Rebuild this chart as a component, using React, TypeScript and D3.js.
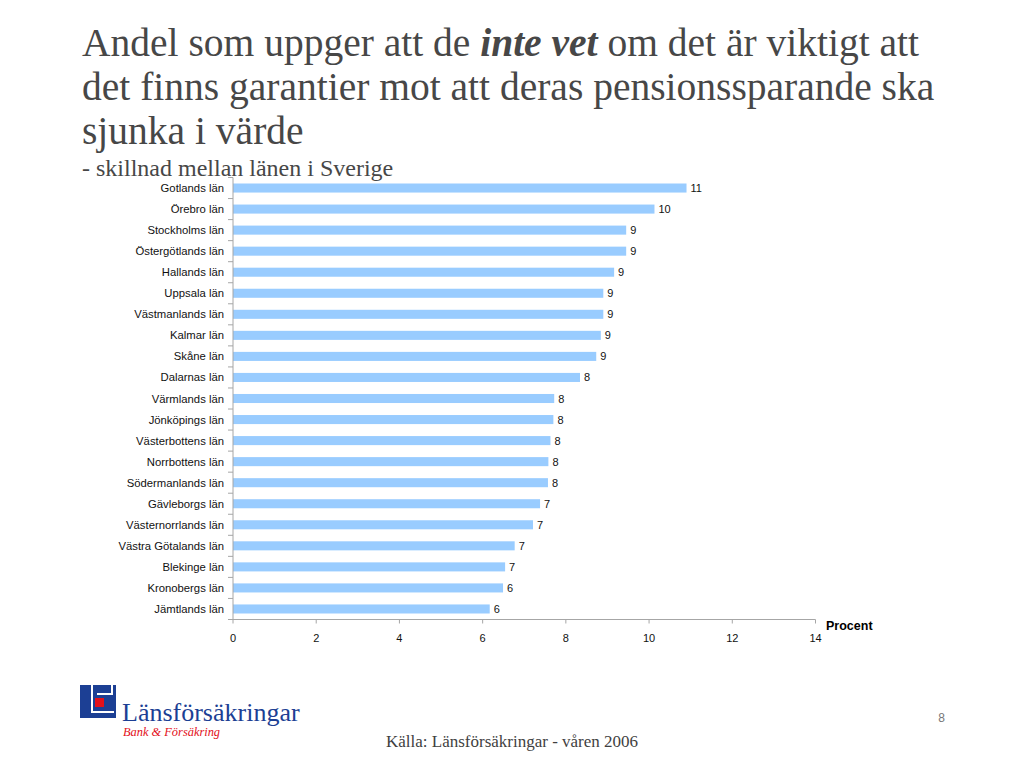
import React from "react";
import * as d3 from "d3";

const counties = [
  "Gotlands län",
  "Örebro län",
  "Stockholms län",
  "Östergötlands län",
  "Hallands län",
  "Uppsala län",
  "Västmanlands län",
  "Kalmar län",
  "Skåne län",
  "Dalarnas län",
  "Värmlands län",
  "Jönköpings län",
  "Västerbottens län",
  "Norrbottens län",
  "Södermanlands län",
  "Gävleborgs län",
  "Västernorrlands län",
  "Västra Götalands län",
  "Blekinge län",
  "Kronobergs län",
  "Jämtlands län",
];

const shares = [
  10.9, 10.13, 9.45, 9.45, 9.16, 8.9, 8.9, 8.84, 8.73, 8.34, 7.72, 7.7, 7.63,
  7.58, 7.57, 7.38, 7.21, 6.77, 6.54, 6.49, 6.17,
];

const xTicks = [0, 2, 4, 6, 8, 10, 12, 14];

const serif = "'Liberation Serif', 'Times New Roman', serif";
const sans = "'Liberation Sans', Arial, sans-serif";

const App = () => {
  const width = 1024;
  const height = 768;
  const left = 233;
  const right = 815.5;
  const top = 177.5;
  const bottom = 619.5;

  const x = d3.scaleLinear().domain([0, 14]).range([left, right]);
  const y = d3
    .scaleBand<string>()
    .domain(counties)
    .range([top, bottom])
    .paddingInner(0.57)
    .paddingOuter(0.285);

  const step = y.step();
  const bounds = d3.range(counties.length + 1).map((i) => top + i * step);

  return (
    <svg
      width={width}
      height={height}
      style={{ position: "absolute", left: 0, top: 0, background: "#fff" }}
    >
      {/* title */}
      <text x={82} y={56} fontSize={39.5} fontFamily={serif} fill="#474747">
        Andel som uppger att de{" "}
        <tspan fontWeight="bold" fontStyle="italic">
          inte vet
        </tspan>{" "}
        om det är viktigt att
      </text>
      <text x={82} y={100} fontSize={39.5} fontFamily={serif} fill="#474747">
        det finns garantier mot att deras pensionssparande ska
      </text>
      <text x={82} y={144} fontSize={39.5} fontFamily={serif} fill="#474747">
        sjunka i värde
      </text>
      <text x={82} y={176} fontSize={24} fontFamily={serif} fill="#474747">
        - skillnad mellan länen i Sverige
      </text>

      {/* bars */}
      {counties.map((c, i) => (
        <rect
          key={c}
          x={x(0)}
          y={y(c)}
          width={x(shares[i]) - x(0)}
          height={y.bandwidth()}
          fill="#99ccff"
        />
      ))}

      {/* value labels */}
      <g fontFamily={sans} fontSize={11} fill="#111">
        {counties.map((c, i) => (
          <text
            key={c}
            x={x(shares[i]) + 4}
            y={(y(c) ?? 0) + y.bandwidth() / 2}
            dominantBaseline="central"
          >
            {Math.round(shares[i])}
          </text>
        ))}
      </g>

      {/* category axis */}
      <g stroke="#a6a6a6" strokeWidth={1}>
        <line x1={left} x2={left} y1={top} y2={bottom} />
        {bounds.map((b, i) => (
          <line key={i} x1={left - 5} x2={left} y1={b} y2={b} />
        ))}
      </g>
      <g fontFamily={sans} fontSize={11.3} fill="#111" textAnchor="end">
        {counties.map((c) => (
          <text
            key={c}
            x={left - 9}
            y={(y(c) ?? 0) + y.bandwidth() / 2}
            dominantBaseline="central"
          >
            {c}
          </text>
        ))}
      </g>

      {/* value axis */}
      <g stroke="#a6a6a6" strokeWidth={1}>
        <line x1={left} x2={right} y1={bottom} y2={bottom} />
        {xTicks.map((t) => (
          <line key={t} x1={x(t)} x2={x(t)} y1={bottom} y2={bottom + 4} />
        ))}
      </g>
      <g fontFamily={sans} fontSize={11} fill="#111" textAnchor="middle">
        {xTicks.map((t) => (
          <text key={t} x={x(t)} y={bottom + 22}>
            {t}
          </text>
        ))}
      </g>
      <text
        x={826}
        y={630}
        fontFamily={sans}
        fontSize={12.5}
        fontWeight="bold"
        fill="#000"
      >
        Procent
      </text>

      {/* footer */}
      <rect x={80} y={685} width={36} height={33} fill="#1c3f94" />
      <path d="M92,685 V712 H114" fill="none" stroke="#fff" strokeWidth={2} />
      <path d="M97,694 H112 V685" fill="none" stroke="#fff" strokeWidth={2} />
      <rect x={95} y={698} width={9} height={9} fill="#e3101a" />
      <text x={122} y={721} fontFamily={serif} fontSize={26} fill="#1c3f94">
        Länsförsäkringar
      </text>
      <text
        x={123}
        y={736}
        fontFamily={serif}
        fontSize={12.4}
        fontStyle="italic"
        fill="#e3101a"
      >
        Bank &amp; Försäkring
      </text>
      <text x={386} y={747} fontFamily={serif} fontSize={17} fill="#3f3f3f">
        Källa: Länsförsäkringar - våren 2006
      </text>
      <text
        x={945}
        y={722}
        fontFamily={sans}
        fontSize={12}
        fill="#777"
        textAnchor="end"
      >
        8
      </text>
    </svg>
  );
};

export default App;
